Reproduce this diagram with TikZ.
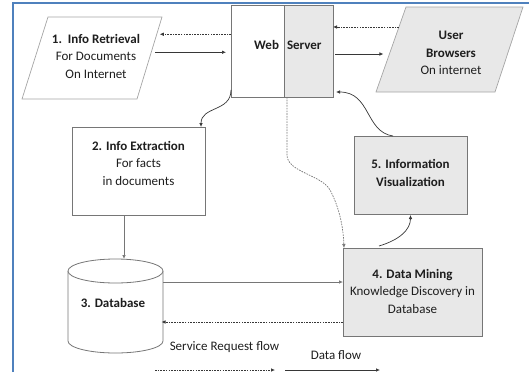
\documentclass[tikz,border=0pt]{standalone}
\usepackage{fontspec}
\setmainfont{Carlito}
\usetikzlibrary{arrows.meta,calc}

\definecolor{boxgray}{RGB}{232,232,232}
\definecolor{edgegray}{RGB}{118,118,118}
\definecolor{slantgray}{RGB}{165,165,165}
\definecolor{frameblue}{RGB}{79,129,189}
\definecolor{flowcol}{RGB}{55,55,55}
\definecolor{inkcol}{RGB}{30,30,30}

\begin{document}
\begin{tikzpicture}[x=1pt,y=-1pt,
  every node/.style={inner sep=0pt, outer sep=0pt, align=center,
    font=\fontsize{13}{17.5}\selectfont, text=inkcol},
  plainbox/.style={draw=edgegray, line width=0.8pt, fill=white},
  graybox/.style={draw=edgegray, line width=0.8pt, fill=boxgray},
  slantbox/.style={draw=slantgray, line width=0.7pt},
  flowline/.style={draw=flowcol, line width=0.7pt, -{Latex[length=4pt,width=3.6pt]}},
  reqline/.style={flowline, dash pattern=on 1.6pt off 1.1pt},
  title/.style={font=\fontsize{13}{17.5}\selectfont\bfseries}]

\useasboundingbox (0,0) rectangle (529,372);

% page frame
\draw[frameblue, line width=1.6pt] (13,372) -- (13,3) -- (529,3);

% 1. Info Retrieval (parallelogram)
\coordinate (irNW) at (48,17);
\coordinate (irNE) at (162,17);
\coordinate (irSE) at (137,99);
\coordinate (irSW) at (22,99);
\draw[slantbox, fill=white] (irNW) -- (irNE) -- (irSE) -- (irSW) -- cycle;
\node (ir) at (96,56) {\textbf{1.\ \ Info Retrieval}\\For Documents\\On Internet};

% Web Server
\node[plainbox, minimum width=102pt, minimum height=92pt] (ws) at (282,51) {};
\node[graybox, minimum width=49pt, minimum height=92pt, anchor=north east] (wsr) at (ws.north east) {};
\node[title, anchor=base east] (wsweb) at (279,49) {Web};
\node[title, anchor=base west] (wsserver) at (287,49) {Server};

% User Browsers (parallelogram)
\coordinate (ubNW) at (406,7);
\coordinate (ubNE) at (523,7);
\coordinate (ubSE) at (495,92);
\coordinate (ubSW) at (376,92);
\draw[slantbox, fill=boxgray] (ubNW) -- (ubNE) -- (ubSE) -- (ubSW) -- cycle;
\node (ub) at (451,53) {\textbf{User}\\\textbf{Browsers}\\On internet};

% 2. Info Extraction
\node[plainbox, minimum width=133pt, minimum height=88pt] (ie) at (138.5,171) {};
\node (iet) at (138.5,163) {\textbf{2. Info Extraction}\\For facts\\in documents};

% 3. Database (cylinder)
\coordinate (dbtop) at (115.5,271);
\draw[plainbox] ($(dbtop)+(-47.5,0)$) -- ++(0,70)
  arc[start angle=180, end angle=360, x radius=47.5pt, y radius=12pt]
  -- ($(dbtop)+(47.5,0)$);
\draw[plainbox] (dbtop) ellipse[x radius=47.5pt, y radius=12pt];
\node[title] (db) at (113,303) {3. Database};

% 4. Data Mining
\node[graybox, minimum width=139pt, minimum height=88pt] (dm) at (412.5,292) {};
\node (dmt) at (412.5,291) {\textbf{4. Data Mining}\\Knowledge Discovery in\\Database};

% 5. Information Visualization
\node[graybox, minimum width=113pt, minimum height=78pt] (iv) at (410.5,175) {};
\node[title] (ivt) at (410.5,173) {5. Information\\Visualization};

% connector end points on the slanted and curved outlines
\coordinate (irIn)  at ($(irNE)!0.21!(irSE)+(3,0)$);
\coordinate (irOut) at ($(irNE)!0.43!(irSE)+(4,0)$);
\coordinate (ubOut) at ($(ubNW)!0.235!(ubSW)$);
\coordinate (ubIn)  at ($(ubNW)!0.553!(ubSW)+(-6,0)$);
\coordinate (dbIn)  at ($(dbtop)+(8.5,-12)$);
\coordinate (dbOut) at ($(dbtop)+(47.5,11)$);
\coordinate (dbBack) at ($(dbtop)+(46,51)$);

% flows between Info Retrieval and Web Server
\draw[reqline] (ws.west |- irIn) -- (irIn);
\draw[flowline] (irOut) -- ([xshift=-5pt]ws.west |- irOut);

% flows between Web Server and User Browsers
\draw[reqline] (ubOut) -- (ws.east |- ubOut);
\draw[flowline] ([xshift=2pt]ws.east |- ubIn) -- (ubIn);

% Web Server to Info Extraction
\draw[flowline] ([yshift=7pt]ws.south west) .. controls +(0,22) and +(0,-21) .. ([xshift=-4pt]ie.north east);

% Info Extraction to Database
\draw[flowline, draw=edgegray] ([xshift=-14.5pt]ie.south) -- (dbIn);

% Database and Data Mining
\draw[flowline, draw=edgegray] (dbOut) -- (dbOut -| dm.west);
\draw[reqline] (dm.west |- dbBack) -- (dbBack);

% Web Server request down to Data Mining
\draw[reqline, draw=edgegray] ([xshift=5pt]ws.south) -- ++(0,58)
  .. controls +(0,17) and +(-8,-15) .. ++(43,35)
  .. controls +(8,15) and +(-1,-25) .. ([xshift=1pt]dm.north west);

% Data Mining to Visualization, Visualization back to Web Server
\draw[flowline] ([xshift=-33.5pt,yshift=2pt]dm.north) .. controls +(20,-6) and +(0,15) .. ([yshift=-1pt]iv.south);
\draw[flowline] ([xshift=-17.5pt]iv.north) .. controls +(-28,-4) and +(35,0) .. ([xshift=3pt,yshift=5pt]ws.south east);

% legend
\node (lgreq) at (224.5,347) {Service Request flow};
\node (lgdata) at (336,355) {Data flow};
\coordinate (reqA) at (155,370);
\coordinate (reqB) at (275,370);
\coordinate (dataA) at (285,370);
\coordinate (dataB) at (380,370);
\draw[reqline] (reqA) -- (reqB);
\draw[flowline] (dataA) -- (dataB);

\end{tikzpicture}
\end{document}
